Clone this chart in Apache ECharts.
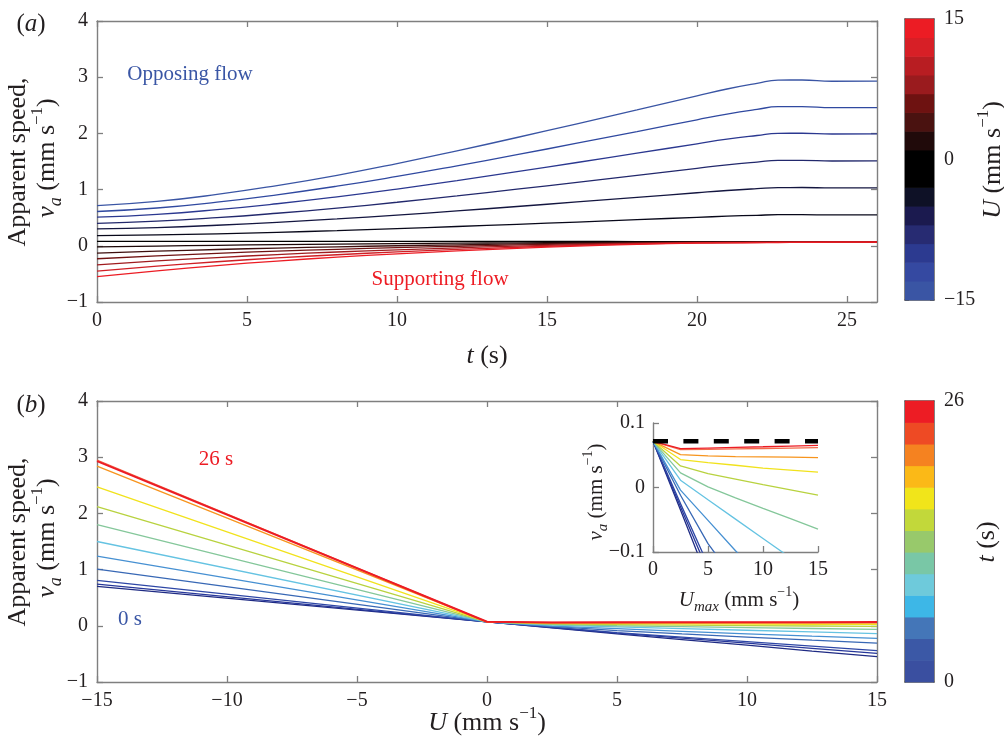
<!DOCTYPE html>
<html><head><meta charset="utf-8">
<script src="https://cdn.jsdelivr.net/npm/echarts@6/dist/echarts.min.js"></script>
<style>html,body{margin:0;padding:0;background:#fff}#c{width:1004px;height:743px}</style>
</head><body><div id="c"></div>
<script>
// ---------- Panel (a): apparent speed vs time, one curve per flow speed U ----------
const tA = [0, 2, 4, 6, 8, 10, 12, 14, 16, 18, 20, 21, 22, 22.7, 23.5, 24.5, 26];
const uA = [-15, -12.5, -10, -7.5, -5, -2.5, 0, 2.5, 5, 7.5, 10, 12.5, 15];
const vaA_Um15   = [0.715,0.790,0.914,1.072,1.255,1.464,1.690,1.927,2.170,2.418,2.669,2.790,2.890,2.948,2.950,2.928,2.930];
const vaA_Um12_5 = [0.610,0.673,0.777,0.908,1.061,1.235,1.424,1.622,1.825,2.033,2.242,2.343,2.427,2.475,2.477,2.458,2.460];
const vaA_Um10   = [0.510,0.560,0.643,0.748,0.871,1.010,1.161,1.320,1.482,1.648,1.815,1.897,1.963,2.002,2.003,1.989,1.990];
const vaA_Um7_5  = [0.400,0.438,0.500,0.579,0.671,0.775,0.888,1.007,1.129,1.254,1.379,1.440,1.490,1.519,1.520,1.509,1.510];
const vaA_Um5    = [0.300,0.325,0.366,0.418,0.478,0.547,0.621,0.699,0.780,0.861,0.944,0.984,1.017,1.036,1.037,1.029,1.030];
const vaA_Um2_5  = [0.180,0.193,0.213,0.240,0.270,0.305,0.343,0.382,0.423,0.465,0.506,0.527,0.543,0.553,0.553,0.550,0.550];
const vaA_U0     = [0.080,0.080,0.079,0.079,0.078,0.078,0.077,0.077,0.077,0.076,0.076,0.076,0.076,0.076,0.076,0.076,0.076];
const vaA_Up2_5  = [-0.020,-0.005,0.009,0.021,0.030,0.039,0.047,0.053,0.059,0.064,0.067,0.068,0.068,0.068,0.069,0.069,0.070];
const vaA_Up5    = [-0.130,-0.096,-0.066,-0.040,-0.018,0.001,0.018,0.033,0.046,0.056,0.063,0.064,0.066,0.066,0.067,0.068,0.069];
const vaA_Up7_5  = [-0.230,-0.179,-0.134,-0.095,-0.062,-0.034,-0.008,0.015,0.034,0.049,0.060,0.062,0.063,0.065,0.066,0.067,0.069];
const vaA_Up10   = [-0.340,-0.270,-0.209,-0.156,-0.110,-0.071,-0.037,-0.006,0.021,0.041,0.056,0.059,0.061,0.063,0.064,0.066,0.068];
const vaA_Up12_5 = [-0.450,-0.362,-0.284,-0.216,-0.159,-0.109,-0.065,-0.026,0.008,0.034,0.052,0.055,0.059,0.061,0.063,0.065,0.067];
const vaA_Up15   = [-0.550,-0.445,-0.352,-0.271,-0.203,-0.144,-0.091,-0.045,-0.004,0.027,0.048,0.053,0.056,0.059,0.061,0.064,0.067];
const vaA = [vaA_Um15, vaA_Um12_5, vaA_Um10, vaA_Um7_5, vaA_Um5, vaA_Um2_5, vaA_U0,
             vaA_Up2_5, vaA_Up5, vaA_Up7_5, vaA_Up10, vaA_Up12_5, vaA_Up15];

// ---------- Panel (b): apparent speed vs U, one line per time ----------
const uB = [-15, 0, 2.5, 5, 7.5, 10, 12.5, 15];
const vaB_k0  = [0.70, 0.0716, -0.035, -0.143, -0.245, -0.345, -0.450, -0.550];
const vaB_k1  = [0.74, 0.0716, -0.030, -0.130, -0.220, -0.310, -0.400, -0.490];
const vaB_k2  = [0.81, 0.0716, -0.025, -0.120, -0.200, -0.280, -0.360, -0.440];
const vaB_k3  = [1.01, 0.0716, -0.012, -0.087, -0.145, -0.200, -0.256, -0.310];
const vaB_k4  = [1.24, 0.0716, -0.004, -0.051, -0.098, -0.142, -0.184, -0.225];
const vaB_k5  = [1.50, 0.0716, 0.0113, -0.019, -0.049, -0.079, -0.109, -0.139];
const vaB_k6  = [1.80, 0.0716, 0.0227, 0.001, -0.016, -0.0325, -0.0484, -0.0644];
const vaB_k7  = [2.12, 0.0716, 0.0335, 0.0216, 0.013, 0.0046, -0.0036, -0.0118];
const vaB_k8  = [2.47, 0.0716, 0.0433, 0.0386, 0.0345, 0.030, 0.027, 0.0237];
const vaB_k9  = [2.84, 0.0716, 0.051, 0.049, 0.048, 0.0475, 0.047, 0.0464];
const vaB_k10 = [2.95, 0.0716, 0.0587, 0.059, 0.0598, 0.0605, 0.0612, 0.0618];
const vaB_k11 = [2.93, 0.0716, 0.0603, 0.0612, 0.0622, 0.0632, 0.0643, 0.0654];
const vaB = [vaB_k0, vaB_k1, vaB_k2, vaB_k3, vaB_k4, vaB_k5, vaB_k6, vaB_k7, vaB_k8, vaB_k9, vaB_k10, vaB_k11];
const vaNoFlow = 0.0716;   // dashed reference in inset
const insetU = [0, 15];

// ---------- colour bars ----------
const cbarEdgesA = [-15,-13,-11,-9,-7,-5,-3,-1,1,3,5,7,9,11,13,15];
const cbarEdgesB = [0,2,4,6,8,10,12,14,16,18,20,22,24,26];

// ---------- styles ----------
const colorsA = ['#3a55a4','#3049a0','#2b3890','#22286c','#141640','#08081a','#000000',
                 '#1c0707','#3e0f0e','#701313','#a01c1f','#cf1f25','#ec1c24'];
const colorsB = ['#1f2b84','#27379a','#2e47a6','#3868b5','#4690d2','#65c3e2','#84c79a',
                 '#b8d23f','#f1e21c','#f7941d','#f26b4a','#ec1c24'];
const cbarColorsA = ['#3a55a4','#3549a1','#2c3a90','#272b72','#1b1a4f','#0e1126','#000000','#000000',
                     '#200a0a','#4a1210','#6e1211','#9a1b1e','#b81d22','#d71f26','#ec1c24'];
const cbarColorsB = ['#3a4fa0','#3b58a6','#4476b8','#3db7e7','#6ecadb','#79c7a6','#98c96b',
                     '#c2d83a','#f1e51a','#fbb917','#f58220','#ee4a24','#ed1c24'];
const F = "'Liberation Serif','Times New Roman',serif";
const TXT = '#231f20';
const AX = '#7f7f7f';
const BLUE = '#3a56a5', RED = '#ed1c24';

const fmt = v => {
  if (Math.abs(v) < 1e-9) return '0';
  const s = String(+Math.abs(v).toFixed(4));
  return v < 0 ? '\u2212' + s : s;
};
function axis(gi, o) {
  return Object.assign({
    type: 'value', gridIndex: gi, splitLine: {show: false},
    axisLine: {show: true, onZero: false, lineStyle: {color: AX, width: 1.4}},
    axisTick: {show: true, inside: true, length: 6, lineStyle: {color: AX, width: 1.3}},
    axisLabel: {show: true, color: TXT, fontFamily: F, fontSize: 20, margin: 9, formatter: fmt}
  }, o);
}
const noLab = {show: false};
const cbLine = {show: true, onZero: false, lineStyle: {color: '#5a5a5a', width: 1.5}};

const xAxis = [
  axis(0, {min: 0, max: 26, interval: 5, position: 'bottom', axisLabel: {color: TXT, fontFamily: F, fontSize: 20, margin: 9, formatter: fmt, showMaxLabel: false}}),
  axis(0, {min: 0, max: 26, interval: 5, position: 'top', axisLabel: noLab}),
  axis(1, {min: -15, max: 15, interval: 5, position: 'bottom'}),
  axis(1, {min: -15, max: 15, interval: 5, position: 'top', axisLabel: noLab}),
  axis(2, {min: 0, max: 15, interval: 5, position: 'bottom', axisLabel: {color: TXT, fontFamily: F, fontSize: 20, margin: 8, formatter: fmt}}),
  {type: 'value', gridIndex: 3, min: 0, max: 1, position: 'bottom', axisLine: cbLine, axisTick: noLab, axisLabel: noLab, splitLine: noLab},
  {type: 'value', gridIndex: 3, min: 0, max: 1, position: 'top', axisLine: cbLine, axisTick: noLab, axisLabel: noLab, splitLine: noLab},
  {type: 'value', gridIndex: 4, min: 0, max: 1, position: 'bottom', axisLine: cbLine, axisTick: noLab, axisLabel: noLab, splitLine: noLab},
  {type: 'value', gridIndex: 4, min: 0, max: 1, position: 'top', axisLine: cbLine, axisTick: noLab, axisLabel: noLab, splitLine: noLab}
];
const yAxis = [
  axis(0, {min: -1, max: 4, interval: 1, position: 'left'}),
  axis(0, {min: -1, max: 4, interval: 1, position: 'right', axisLabel: noLab}),
  axis(1, {min: -1, max: 4, interval: 1, position: 'left'}),
  axis(1, {min: -1, max: 4, interval: 1, position: 'right', axisLabel: noLab}),
  axis(2, {min: -0.1, max: 0.1, interval: 0.1, position: 'left', axisLabel: {color: TXT, fontFamily: F, fontSize: 20, margin: 8, formatter: fmt}}),
  {type: 'value', gridIndex: 3, min: -15, max: 15, interval: 15, position: 'left', axisLine: cbLine,
   axisTick: {show: true, inside: true, length: 4, lineStyle: {color: '#5a5a5a'}}, axisLabel: noLab, splitLine: noLab},
  {type: 'value', gridIndex: 3, min: -15, max: 15, interval: 15, position: 'right', axisLine: cbLine,
   axisTick: {show: true, inside: true, length: 4, lineStyle: {color: '#5a5a5a'}},
   axisLabel: {color: TXT, fontFamily: F, fontSize: 20, margin: 10, formatter: fmt}, splitLine: noLab},
  {type: 'value', gridIndex: 4, min: 0, max: 26, interval: 26, position: 'left', axisLine: cbLine, axisTick: noLab, axisLabel: noLab, splitLine: noLab},
  {type: 'value', gridIndex: 4, min: 0, max: 26, interval: 26, position: 'right', axisLine: cbLine, axisTick: noLab,
   axisLabel: {color: TXT, fontFamily: F, fontSize: 20, margin: 10, formatter: fmt}, splitLine: noLab}
];

const series = [];
vaA.forEach((arr, i) => series.push({
  type: 'line', xAxisIndex: 0, yAxisIndex: 0, showSymbol: false, smooth: 0.5,
  data: tA.map((t, j) => [t, arr[j]]), lineStyle: {color: colorsA[i], width: 1.3}, silent: true
}));
vaB.forEach((arr, k) => series.push({
  type: 'line', xAxisIndex: 2, yAxisIndex: 2, showSymbol: false,
  data: uB.map((u, j) => [u, arr[j]]), lineStyle: {color: colorsB[k], width: k === vaB.length - 1 ? 2 : 1.3}, silent: true
}));
vaB.forEach((arr, k) => series.push({
  type: 'line', xAxisIndex: 4, yAxisIndex: 4, showSymbol: false, clip: true,
  data: uB.map((u, j) => [u, arr[j]]).filter(p => p[0] >= 0), lineStyle: {color: colorsB[k], width: 1.3}, silent: true
}));
series.push({
  type: 'line', xAxisIndex: 4, yAxisIndex: 4, showSymbol: false, z: 5,
  data: insetU.map(u => [u, vaNoFlow]),
  lineStyle: {color: '#000', width: 4.5, type: [15, 15.4], cap: 'butt'}, silent: true
});
function cbarSeries(xi, yi, edges, cols) {
  const segs = edges.slice(0, -1).map((e, i) => [e, edges[i + 1]]);
  return {
    type: 'custom', xAxisIndex: xi, yAxisIndex: yi, silent: true,
    data: segs,
    renderItem: (params, api) => {
      const a = api.coord([0, api.value(1)]);
      const b = api.coord([1, api.value(0)]);
      return {type: 'rect', shape: {x: a[0], y: a[1] - 0.3, width: b[0] - a[0], height: b[1] - a[1] + 0.6},
              style: {fill: cols[params.dataIndex]}};
    }
  };
}
series.push(cbarSeries(5, 5, cbarEdgesA, cbarColorsA));
series.push(cbarSeries(7, 7, cbarEdgesB, cbarColorsB));

function rich(s) {
  const lh = Math.round(s * 1.4);
  return {
    n: {fontFamily: F, fontSize: s, lineHeight: lh},
    i: {fontFamily: F, fontSize: s, fontStyle: 'italic', lineHeight: lh},
    sub: {fontFamily: F, fontSize: Math.round(s * 0.7), fontStyle: 'italic', verticalAlign: 'bottom'},
    sup: {fontFamily: F, fontSize: Math.round(s * 0.66), verticalAlign: 'top'}
  };
}
function T(x, y, text, s, color, rot) {
  return {type: 'text', x, y, rotation: rot || 0, z: 100, silent: true,
    style: {text, fontFamily: F, fontSize: s, fill: color || TXT, align: 'center', verticalAlign: 'middle', rich: rich(s)}};
}
const R = Math.PI / 2;
const vaLab = '{i|v}{sub|a}{n| (mm s}{sup|\u22121}{n|)}';
const graphics = [
  T(31, 24, '{n|(}{i|a}{n|)}', 25),
  T(31, 405, '{n|(}{i|b}{n|)}', 25),
  T(18, 162, '{n|Apparent speed,}', 26, TXT, R),
  T(47, 158, vaLab, 26, TXT, R),
  T(18, 542, '{n|Apparent speed,}', 26, TXT, R),
  T(47, 538, vaLab, 26, TXT, R),
  T(487, 356, '{i|t}{n| (s)}', 26),
  T(487, 723, '{i|U}{n| (mm s}{sup|\u22121}{n|)}', 26),
  T(993, 160, '{i|U}{n| (mm s}{sup|\u22121}{n|)}', 26, TXT, R),
  T(987, 542, '{i|t}{n| (s)}', 26, TXT, R),
  T(596, 492, vaLab, 21, TXT, R),
  T(739, 600, '{i|U}{sub|max}{n| (mm s}{sup|\u22121}{n|)}', 21),
  {type: 'text', x: 190, y: 74, z: 100, style: {text: 'Opposing flow', fontFamily: F, fontSize: 21, fill: BLUE, align: 'center', verticalAlign: 'middle'}},
  {type: 'text', x: 440, y: 279, z: 100, style: {text: 'Supporting flow', fontFamily: F, fontSize: 21, fill: RED, align: 'center', verticalAlign: 'middle'}},
  {type: 'text', x: 216, y: 459, z: 100, style: {text: '26 s', fontFamily: F, fontSize: 21, fill: RED, align: 'center', verticalAlign: 'middle'}},
  {type: 'text', x: 130, y: 619, z: 100, style: {text: '0 s', fontFamily: F, fontSize: 21, fill: BLUE, align: 'center', verticalAlign: 'middle'}}
];

const chart = echarts.init(document.getElementById('c'), null, {renderer: 'canvas'});
chart.setOption({
  animation: false,
  backgroundColor: '#fff',
  grid: [
    {left: 97, top: 21, width: 780, height: 281, outerBoundsMode: 'none', containLabel: false},
    {left: 97, top: 401, width: 780, height: 281, outerBoundsMode: 'none', containLabel: false},
    {left: 653, top: 423, width: 165, height: 129, outerBoundsMode: 'none', containLabel: false},
    {left: 905, top: 19, width: 29, height: 281, outerBoundsMode: 'none', containLabel: false},
    {left: 905, top: 401, width: 29, height: 281, outerBoundsMode: 'none', containLabel: false}
  ],
  xAxis, yAxis, series,
  graphic: {elements: graphics}
});
</script></body></html>
